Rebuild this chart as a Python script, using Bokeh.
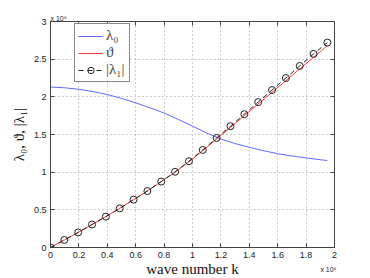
from bokeh.plotting import figure
from bokeh.models import (Range1d, FixedTicker, Legend, LegendItem, Label, LinearAxis)
from bokeh.embed import file_html
from bokeh.resources import INLINE

# --- data (x in units of 1e6, y in units of 1e9) ---
k_lam0 = [0, 0.1, 0.2, 0.3, 0.4, 0.5, 0.6, 0.7, 0.8, 0.9, 1.0, 1.1, 1.2,
          1.3, 1.4, 1.5, 1.6, 1.7, 1.8, 1.9, 1.95]
lam0 = [2.13, 2.12, 2.10, 2.07, 2.03, 1.98, 1.92, 1.855, 1.785, 1.70, 1.61,
        1.52, 1.44, 1.38, 1.33, 1.285, 1.245, 1.215, 1.19, 1.165, 1.155]

k_mark = [0, 0.0975, 0.195, 0.2925, 0.39, 0.4875, 0.585, 0.6825, 0.78, 0.8775,
          0.975, 1.0725, 1.17, 1.2675, 1.365, 1.4625, 1.56, 1.6575, 1.755,
          1.8525, 1.95]
lam1_abs = [0, 0.10, 0.20, 0.305, 0.41, 0.52, 0.635, 0.75, 0.875, 1.005,
            1.145, 1.295, 1.455, 1.61, 1.77, 1.93, 2.09, 2.25, 2.41, 2.57, 2.72]
theta = [0, 0.10, 0.20, 0.305, 0.41, 0.52, 0.635, 0.75, 0.875, 1.0,
         1.14, 1.285, 1.44, 1.595, 1.75, 1.905, 2.06, 2.215, 2.37, 2.525, 2.68]

x_ticks = [0, 0.2, 0.4, 0.6, 0.8, 1.0, 1.2, 1.4, 1.6, 1.8, 2.0]
x_tick_labels = ["0", "0.2", "0.4", "0.6", "0.8", "1", "1.2", "1.4", "1.6", "1.8", "2"]
y_ticks = [0, 0.5, 1.0, 1.5, 2.0, 2.5, 3.0]
y_tick_labels = ["0", "0.5", "1", "1.5", "2", "2.5", "3"]

AX = "#444444"
TICK_FONT = "Liberation Sans"
SERIF = "Liberation Serif"

p = figure(frame_width=284, frame_height=226, output_backend="svg",
           toolbar_location=None,
           x_range=Range1d(0, 2), y_range=Range1d(0, 3),
           min_border_left=50, min_border_top=21, min_border_right=28,
           min_border_bottom=30)
p.background_fill_color = "white"
p.border_fill_color = "white"
p.outline_line_color = AX
p.outline_line_width = 1

for ax, ticks, labels in ((p.xaxis[0], x_ticks, x_tick_labels),
                          (p.yaxis[0], y_ticks, y_tick_labels)):
    ax.ticker = FixedTicker(ticks=ticks)
    ax.major_label_overrides = {t: l for t, l in zip(ticks, labels)}
    ax.major_tick_in = 4
    ax.major_tick_out = 0
    ax.minor_tick_line_color = None
    ax.axis_line_color = AX
    ax.major_tick_line_color = AX
    ax.major_label_text_font = TICK_FONT
    ax.major_label_text_font_size = "9px"
    ax.major_label_text_color = "#222222"
    ax.axis_label_text_font = SERIF
    ax.axis_label_text_font_style = "normal"
    ax.axis_label_text_font_size = "15px"
    ax.axis_label_text_color = "#111111"

p.xaxis.major_label_standoff = 4
p.yaxis.major_label_standoff = 4
p.xaxis.axis_label = "wave number k"
p.xaxis.axis_label_standoff = 0
p.yaxis.axis_label = "λ₀, ϑ, |λ₁|"
p.yaxis.axis_label_standoff = 4

# top / right tick marks (box style), no labels
top = LinearAxis(ticker=FixedTicker(ticks=x_ticks), major_tick_in=4, major_tick_out=0,
                 minor_tick_line_color=None, major_label_text_color=None,
                 major_label_text_font_size="1px",
                 major_label_standoff=0, axis_line_color=AX, major_tick_line_color=AX)
right = LinearAxis(ticker=FixedTicker(ticks=y_ticks), major_tick_in=4, major_tick_out=0,
                   minor_tick_line_color=None, major_label_text_color=None,
                   major_label_text_font_size="1px",
                   major_label_standoff=0, axis_line_color=AX, major_tick_line_color=AX)
p.add_layout(top, "above")
p.add_layout(right, "right")

p.xgrid.ticker = FixedTicker(ticks=x_ticks)
p.ygrid.ticker = FixedTicker(ticks=y_ticks)
p.grid.grid_line_color = "#9a9a9a"
p.grid.grid_line_dash = "1 3"
p.grid.grid_line_width = 1

r_blue = p.line(k_lam0, lam0, line_color="#5b6bff", line_width=1)
r_red = p.line(k_mark, theta, line_color="#ff3a3a", line_width=1)
r_dash = p.line(k_mark, lam1_abs, line_color="#222222", line_width=1, line_dash="5 4")
r_circ = p.scatter(k_mark, lam1_abs, marker="circle", size=7, fill_color=None,
                   line_color="#222222", line_width=1)

legend = Legend(items=[
    LegendItem(label="λ₀", renderers=[r_blue]),
    LegendItem(label="ϑ", renderers=[r_red]),
    LegendItem(label="|λ₁|", renderers=[r_dash, r_circ]),
], location=(24, 165))
legend.border_line_color = "#111111"
legend.border_line_width = 1
legend.background_fill_alpha = 1
legend.label_text_font = SERIF
legend.label_text_font_size = "15px"
legend.glyph_width = 25
legend.glyph_height = 16
legend.label_height = 16
legend.label_standoff = 3
legend.padding = 3
legend.spacing = 0
legend.margin = 0
p.add_layout(legend, "center")

# exponent markers (bottom side-panel labels)
p.add_layout(Label(x=286, y=21, x_units="screen", y_units="screen",
                   text="x 10⁶", text_font=TICK_FONT, text_font_size="7px",
                   text_baseline="top", text_align="right",
                   text_color="#222222"), "below")
p.add_layout(Label(x=0, y=272, x_units="screen", y_units="screen",
                   text="x 10⁹", text_font=TICK_FONT, text_font_size="7px",
                   text_baseline="bottom", text_align="left",
                   text_color="#222222"), "below")

open("out.html", "w").write(file_html(p, INLINE))
